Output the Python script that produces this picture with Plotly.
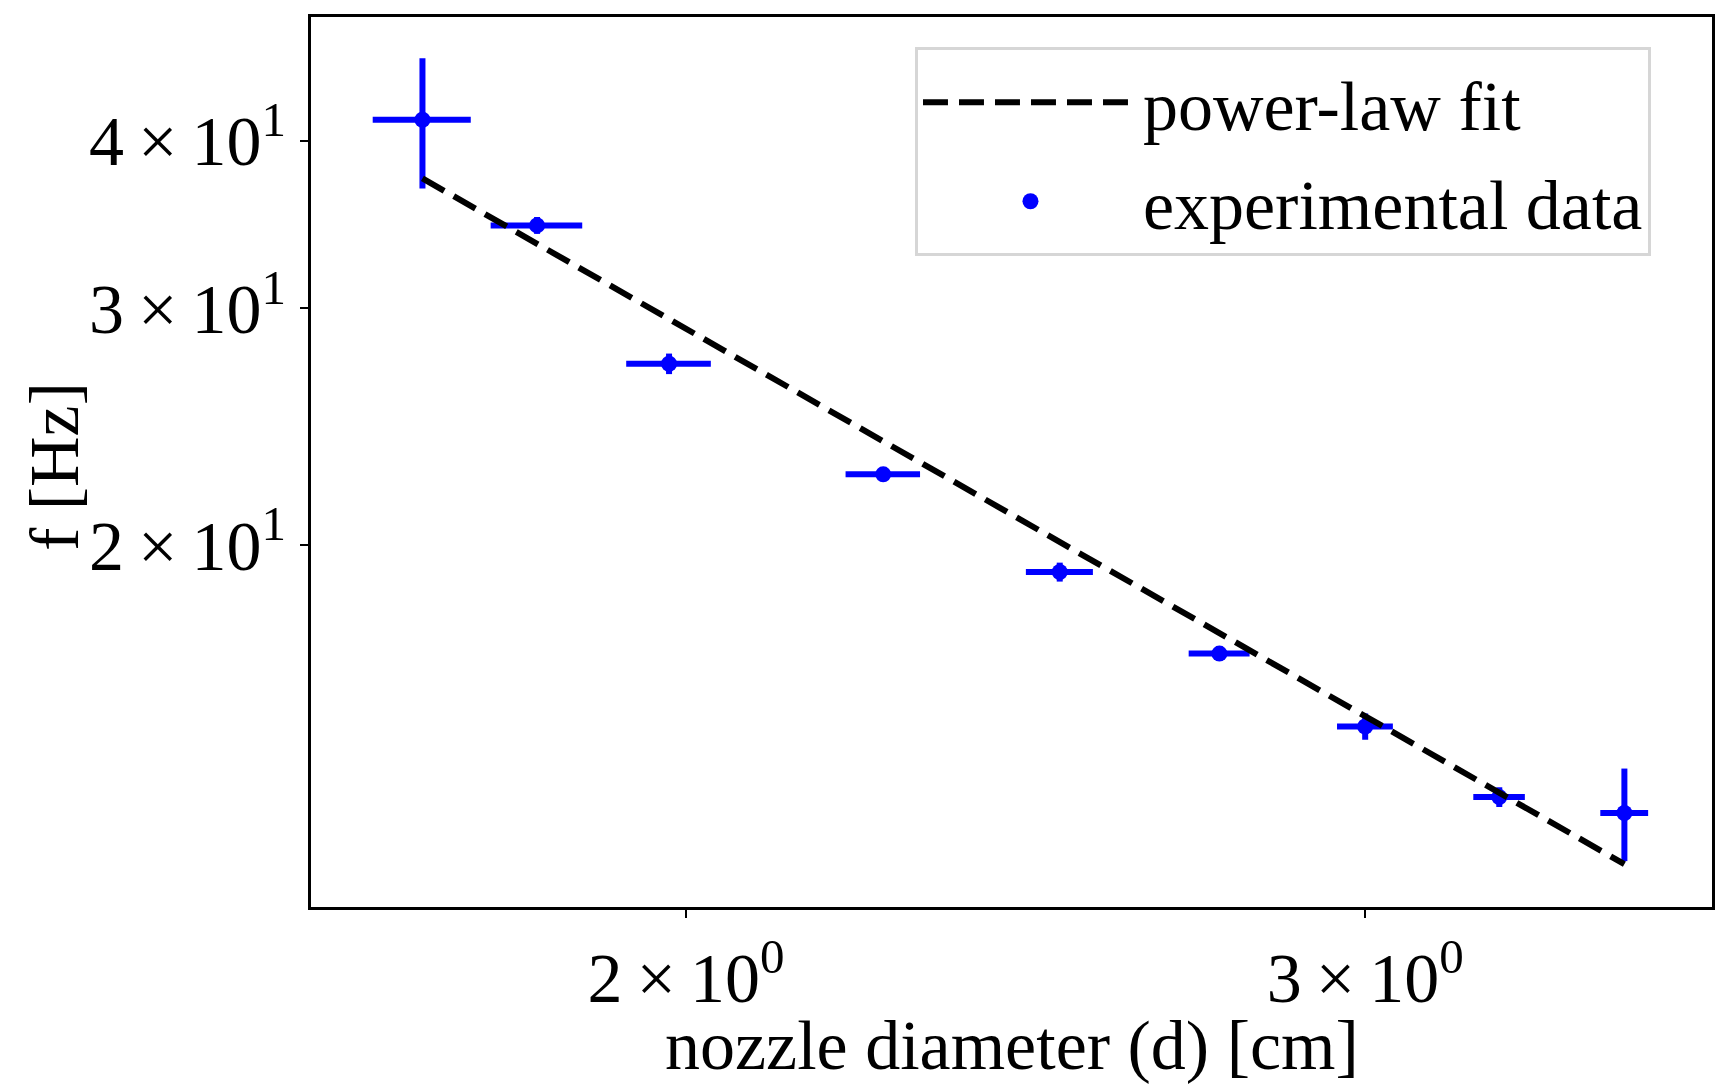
import math
import plotly.graph_objects as go

# nozzle diameter d [cm] with its uncertainty
diameter = [1.709, 1.830, 1.980, 2.250, 2.500, 2.750, 3.000, 3.250, 3.502]
diameter_err = [0.05, 0.05, 0.05, 0.05, 0.05, 0.05, 0.05, 0.05, 0.05]

# measured frequency f [Hz] with its uncertainty
frequency = [41.45, 34.59, 27.29, 22.58, 19.10, 16.61, 14.66, 12.99, 12.64]
frequency_err = [4.6, 0.5, 0.48, 0.25, 0.31, 0.2, 0.33, 0.22, 1.0]

# power-law fit (straight line in log-log), read at both ends
fit_d = [1.709, 3.502]
fit_f = [37.49, 11.58]

x_tickvals = [2, 3]
x_ticktext = ["2\u2009×\u200910<sup>0</sup>", "3\u2009×\u200910<sup>0</sup>"]
y_tickvals = [20, 30, 40]
y_ticktext = ["2\u2009×\u200910<sup>1</sup>", "3\u2009×\u200910<sup>1</sup>", "4\u2009×\u200910<sup>1</sup>"]

x_range = [math.log10(1.599), math.log10(3.690)]
y_range = [math.log10(10.76), math.log10(49.43)]

FONT = "Liberation Serif"
BLUE = "#0000ff"

fig = go.Figure()

fig.add_trace(go.Scatter(
    x=diameter, y=frequency,
    mode="markers",
    name="experimental data",
    legendgroup="data",
    marker=dict(color=BLUE, size=16),
    error_x=dict(type="data", array=diameter_err, color=BLUE, thickness=6, width=0),
    error_y=dict(type="data", array=frequency_err, color=BLUE, thickness=6, width=0),
    legendrank=2,
))

# fit drawn last so the dashes sit on top of the error bars
fig.add_trace(go.Scatter(
    x=fit_d, y=fit_f,
    mode="lines",
    name="power-law fit",
    legendgroup="fit",
    line=dict(color="black", width=6, dash="25px,11px"),
    legendrank=1,
))

axis_common = dict(
    type="log",
    showgrid=False,
    zeroline=False,
    showline=True,
    linecolor="black",
    linewidth=3,
    mirror=True,
    ticks="outside",
    ticklen=8,
    tickwidth=2,
    tickcolor="black",
    tickfont=dict(family=FONT, size=70, color="black"),
)

fig.update_xaxes(**axis_common, range=x_range, tickvals=x_tickvals, ticktext=x_ticktext)
fig.update_yaxes(**axis_common, range=y_range, tickvals=y_tickvals, ticktext=y_ticktext)

# axis labels as annotations: plotly's own titles can't sit where the reference puts them
label_font = dict(family=FONT, size=70, color="black")
fig.add_annotation(
    text="nozzle diameter (d) [cm]",
    xref="paper", yref="paper",
    x=0.5, y=-0.156,
    xanchor="center", yanchor="middle",
    showarrow=False,
    font=label_font,
)
fig.add_annotation(
    text="f [Hz]",
    xref="paper", yref="paper",
    x=-0.183, y=0.495,
    xanchor="center", yanchor="middle",
    textangle=-90,
    showarrow=False,
    font=label_font,
)

# page body has an 8px margin, so the figure is 8px smaller and shifted
fig.update_layout(
    width=1718,
    height=1084,
    margin=dict(l=303, r=14, t=6, b=185),
    plot_bgcolor="white",
    paper_bgcolor="white",
    font=dict(family=FONT, size=70, color="black"),
    legend=dict(
        x=0.4311, xanchor="left",
        y=0.966, yanchor="top",
        bgcolor="white",
        bordercolor="#d6d6d6",
        borderwidth=3,
        itemwidth=215,
        traceorder="grouped",
        tracegroupgap=5,
        font=dict(family=FONT, size=70, color="black"),
    ),
)

fig.write_html("out.html")
